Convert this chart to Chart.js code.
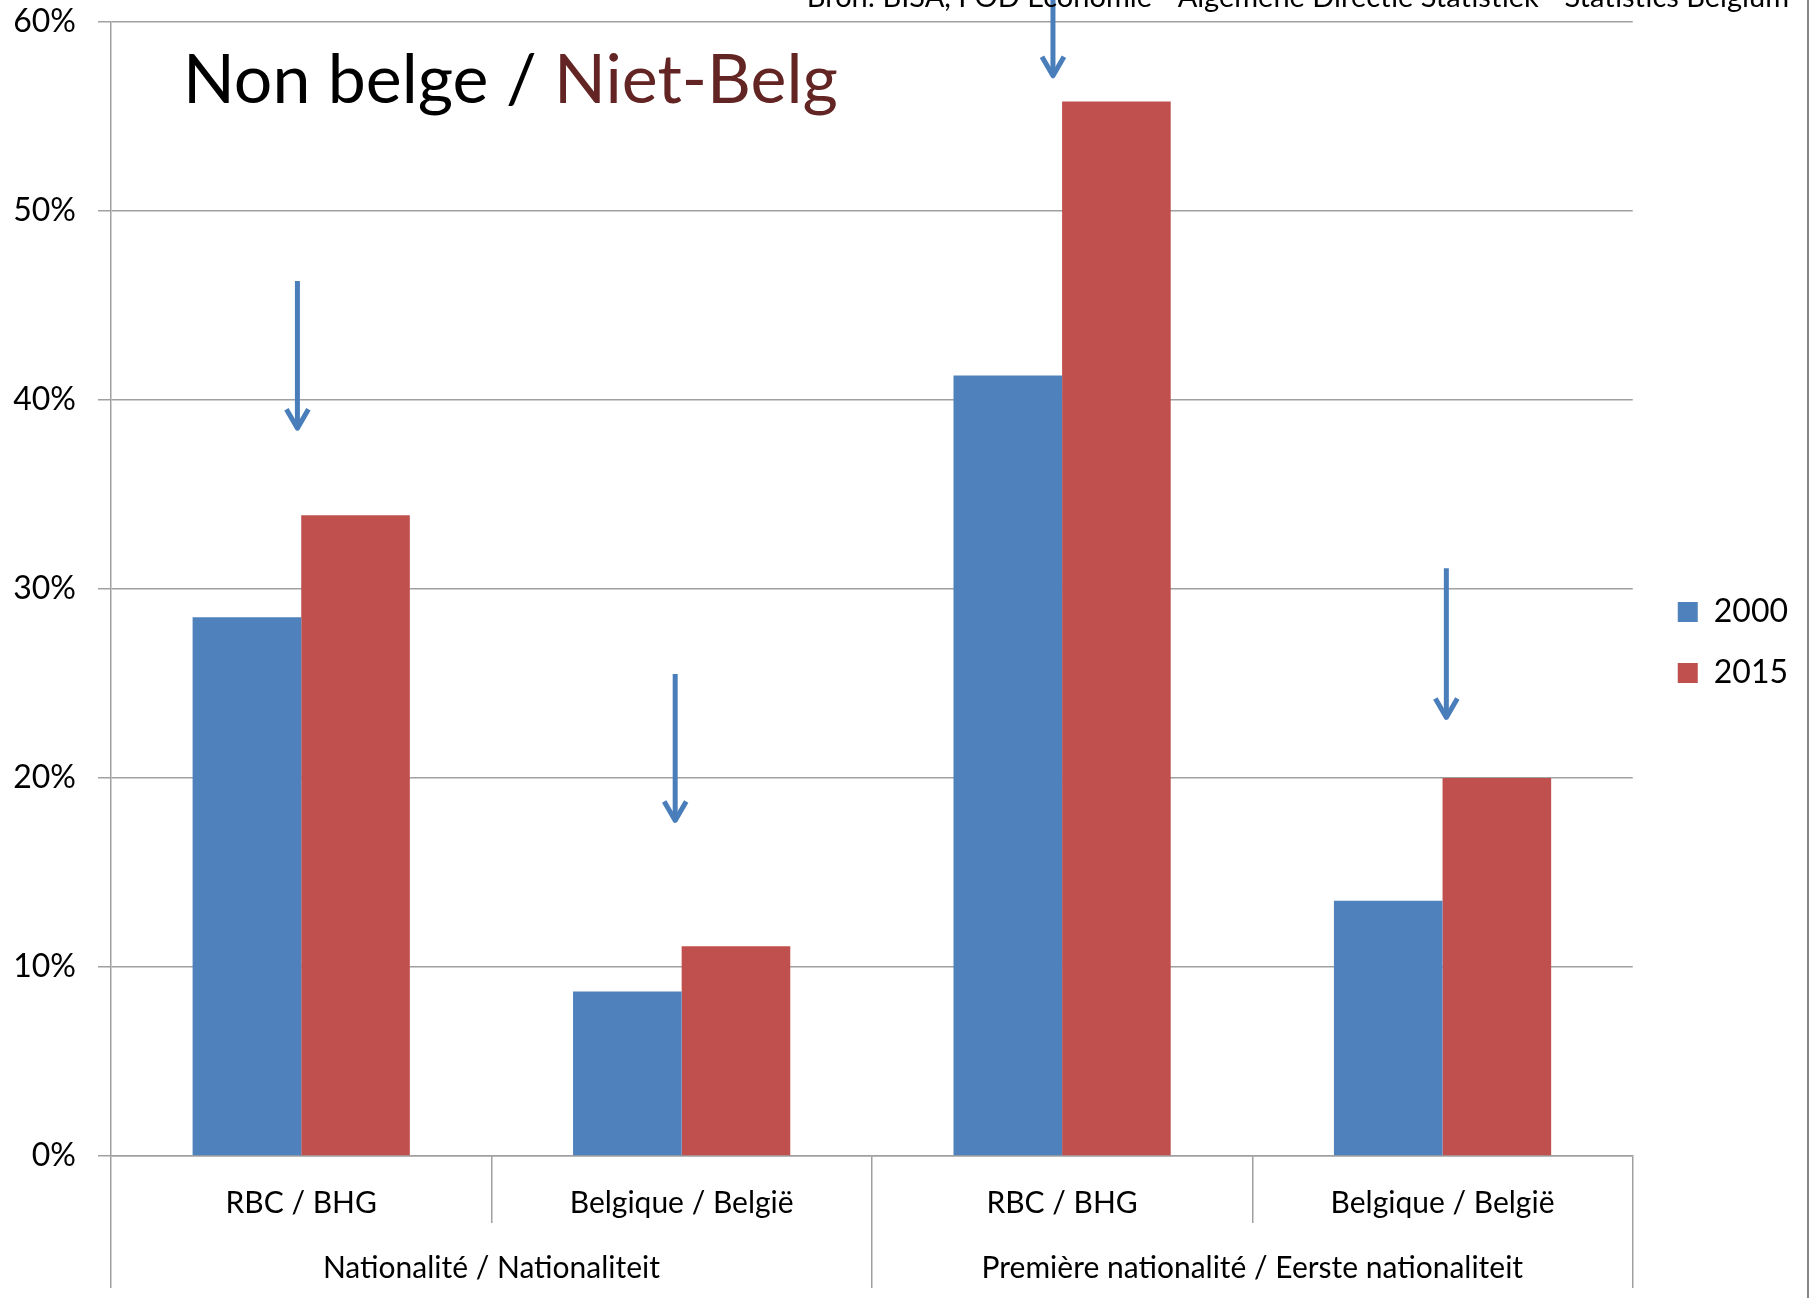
<!DOCTYPE html>
<html>
<head>
<meta charset="utf-8">
<script src="https://cdn.jsdelivr.net/npm/chart.js@4.4.1/dist/chart.umd.min.js"></script>
<style>
  html, body { margin: 0; padding: 0; background: #ffffff; }
  #wrap { width: 1820px; height: 1298px; position: relative; }
</style>
</head>
<body>
<div id="wrap"><canvas id="c" width="1820" height="1298"></canvas></div>
<script>
// ---- data ----
const categories = ['RBC / BHG', 'Belgique / België', 'RBC / BHG', 'Belgique / België'];
const groups = ['Nationalité / Nationaliteit', 'Première nationalité / Eerste nationaliteit'];
const seriesNames = ['2000', '2015'];
const values2000 = [28.5, 8.7, 41.3, 13.5];
const values2015 = [33.9, 11.1, 55.8, 20.0];
const yTickValues = [0, 10, 20, 30, 40, 50, 60];
// annotation arrows (category position, start value, tip value)
const arrowX = [-0.01, 0.983, 1.976, 3.01];
const arrowFrom = [46.3, 25.5, 62.0, 31.1];
const arrowTo = [38.4, 17.65, 57.05, 23.1];
const titleParts = ['Non belge / ', 'Niet-Belg'];
const sourceText = 'Bron: BISA, FOD Economie - Algemene Directie Statistiek - Statistics Belgium';

const FONT = 'Lato, "Open Sans", sans-serif';
const BLUE = '#4F81BD';
const RED = '#C0504D';
const GRID = '#a0a0a0';

const decorPlugin = {
  id: 'decor',
  afterDatasetsDraw(chart) {
    const ctx = chart.ctx;
    const xs = chart.scales.x, ys = chart.scales.y;
    ctx.save();
    ctx.strokeStyle = '#4A7EBB';
    ctx.lineWidth = 5;
    ctx.lineCap = 'butt';
    ctx.lineJoin = 'round';
    for (let i = 0; i < arrowX.length; i++) {
      const x = xs.getPixelForValue(arrowX[i]);
      const y0 = ys.getPixelForValue(arrowFrom[i]);
      const y1 = ys.getPixelForValue(arrowTo[i]);
      ctx.beginPath();
      ctx.moveTo(x, y0);
      ctx.lineTo(x, y1 - 3);
      ctx.stroke();
      ctx.beginPath();
      ctx.moveTo(x - 11, y1 - 21);
      ctx.lineTo(x, y1 - 2);
      ctx.lineTo(x + 11, y1 - 21);
      ctx.stroke();
    }
    ctx.restore();
  },
  afterDraw(chart) {
    const ctx = chart.ctx;
    const area = chart.chartArea;
    ctx.save();
    ctx.textBaseline = 'alphabetic';
    ctx.textAlign = 'left';
    ctx.font = '68px ' + FONT;
    let tx = area.left + 72;
    const ty = area.top + 81;
    ctx.fillStyle = '#000000';
    ctx.fillText(titleParts[0], tx, ty);
    tx += ctx.measureText(titleParts[0]).width;
    ctx.fillStyle = '#632523';
    ctx.fillText(titleParts[1], tx, ty);
    ctx.font = '29px ' + FONT;
    ctx.fillStyle = '#000000';
    ctx.textAlign = 'right';
    ctx.fillText(sourceText, 1789, 7);
    ctx.strokeStyle = '#868686';
    ctx.lineWidth = 2;
    ctx.beginPath();
    ctx.moveTo(1808, 0);
    ctx.lineTo(1808, chart.height);
    ctx.stroke();
    ctx.restore();
  }
};

new Chart(document.getElementById('c'), {
  type: 'bar',
  data: {
    labels: categories,
    datasets: [
      { label: seriesNames[0], data: values2000, backgroundColor: BLUE, borderWidth: 0 },
      { label: seriesNames[1], data: values2015, backgroundColor: RED, borderWidth: 0 }
    ]
  },
  options: {
    responsive: false,
    animation: false,
    events: [],
    layout: { padding: { top: -3, bottom: 10, left: 0, right: 22 } },
    datasets: { bar: { categoryPercentage: 0.571, barPercentage: 1.0 } },
    plugins: {
      title: { display: false },
      tooltip: { enabled: false },
      legend: {
        position: 'right',
        align: 'center',
        labels: {
          font: { family: FONT, size: 32 },
          color: '#000000',
          boxWidth: 20,
          boxHeight: 20,
          padding: 29
        }
      }
    },
    scales: {
      x: {
        type: 'category',
        position: 'bottom',
        offset: true,
        grid: { offset: true, drawOnChartArea: false, drawTicks: true, tickLength: 67, color: GRID, lineWidth: 1.5 },
        border: { display: true, color: GRID, width: 1.5 },
        ticks: { font: { family: FONT, size: 30 }, color: '#000000', padding: -38, maxRotation: 0, autoSkip: false },
        afterFit(scale) { scale.height = 67; }
      },
      x2: {
        type: 'category',
        position: 'bottom',
        labels: groups,
        offset: true,
        grid: { offset: true, drawOnChartArea: false, drawTicks: true, tickLength: 65, color: GRID, lineWidth: 1.5 },
        border: { display: false },
        ticks: { font: { family: FONT, size: 30 }, color: '#000000', padding: -38, maxRotation: 0, autoSkip: false },
        afterFit(scale) { scale.height = 65; }
      },
      y: {
        min: 0,
        max: 60,
        afterBuildTicks(scale) { scale.ticks = yTickValues.map(v => ({ value: v })); },
        grid: { color: GRID, lineWidth: 1.5, drawTicks: true, tickLength: 13 },
        border: { display: true, color: GRID, width: 1.5 },
        ticks: {
          font: { family: FONT, size: 32 },
          color: '#000000',
          padding: 22,
          callback: v => v + '%'
        },
        afterFit(scale) { scale.width = 111; scale.paddingTop = 22; scale.paddingBottom = 0; }
      },
      gap: {
        type: 'linear',
        position: 'right',
        display: true,
        grid: { display: false, drawTicks: false },
        border: { display: false },
        ticks: { display: false },
        afterFit(scale) { scale.width = 16; scale.paddingTop = 0; scale.paddingBottom = 0; }
      }
    }
  },
  plugins: [decorPlugin]
});
</script>
</body>
</html>
